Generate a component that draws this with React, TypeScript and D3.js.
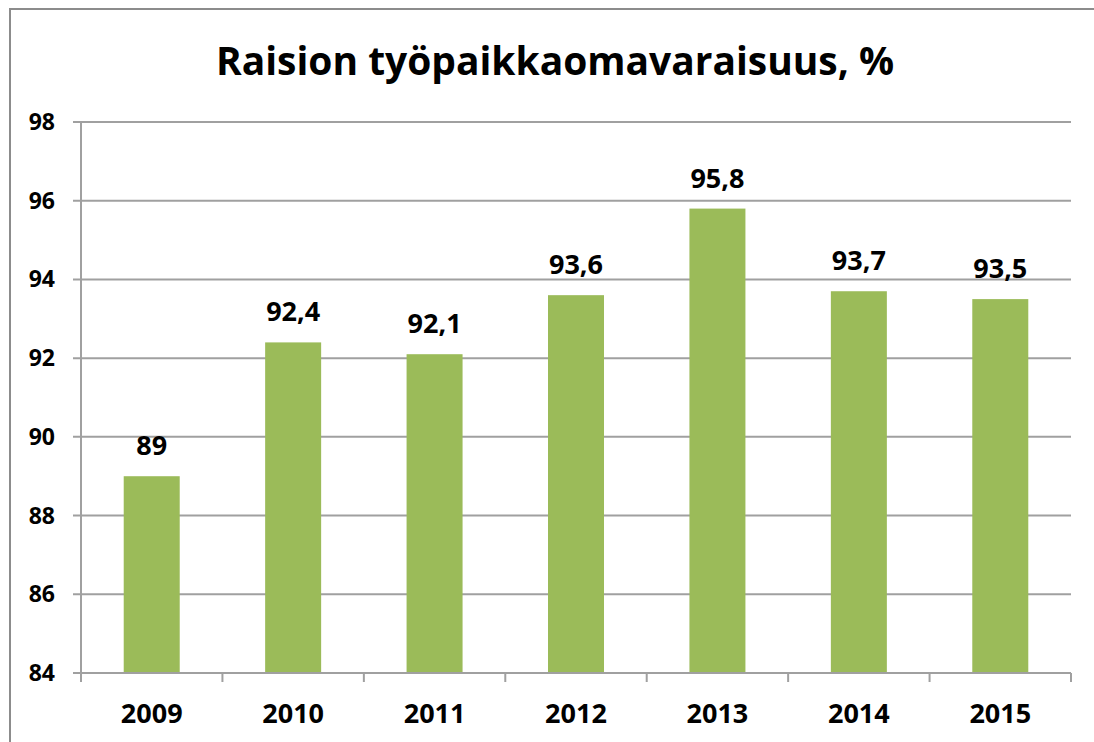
import { useEffect, useRef } from "react";
import * as d3 from "d3";

const years = ["2009", "2010", "2011", "2012", "2013", "2014", "2015"];
const values = [89, 92.4, 92.1, 93.6, 95.8, 93.7, 93.5];
const yTicks = [84, 86, 88, 90, 92, 94, 96, 98];
const title = "Raision työpaikkaomavaraisuus, %";

const W = 1094;
const H = 742;
const FONT = "'Open Sans', 'DejaVu Sans', sans-serif";

export default function App() {
    const ref = useRef<SVGSVGElement | null>(null);

    useEffect(() => {
        const svg = d3.select(ref.current);
        svg.selectAll("*").remove();

        const margin = { top: 122, left: 81, right: 23, bottom: 69 };
        const x = d3.scaleBand<string>().domain(years).range([margin.left, W - margin.right]);
        const y = d3.scaleLinear().domain([84, 98]).range([H - margin.bottom, margin.top]);
        const gray = "#8c8c8c";

        // outer chart border (only left and top visible)
        svg.append("rect")
            .attr("x", 10).attr("y", 9)
            .attr("width", W + 20).attr("height", H + 20)
            .attr("fill", "white")
            .attr("stroke", gray).attr("stroke-width", 2);

        svg.append("text")
            .attr("x", 555).attr("y", 75)
            .attr("text-anchor", "middle")
            .attr("font-family", FONT).attr("font-weight", "bold")
            .attr("font-size", 40)
            .attr("textLength", 678)
            .attr("lengthAdjust", "spacingAndGlyphs")
            .text(title);

        // gridlines + y ticks
        const yAxis = svg.append("g").attr("class", "y-axis");
        yAxis.selectAll("line.grid")
            .data(yTicks)
            .join("line")
            .attr("class", "grid")
            .attr("x1", margin.left - 8).attr("x2", W - margin.right)
            .attr("y1", d => y(d)).attr("y2", d => y(d))
            .attr("stroke", "#a0a0a0").attr("stroke-width", 2);
        yAxis.selectAll("text")
            .data(yTicks)
            .join("text")
            .attr("x", 55).attr("y", d => y(d) + 8)
            .attr("text-anchor", "end")
            .attr("font-family", FONT).attr("font-weight", "bold").attr("font-size", 23)
            .text(d => d);
        yAxis.append("line")
            .attr("x1", margin.left).attr("x2", margin.left)
            .attr("y1", y(98)).attr("y2", y(84) + 9)
            .attr("stroke", "#a0a0a0").attr("stroke-width", 2);

        // bars
        const barW = 56;
        const bars = svg.append("g").attr("class", "bars");
        bars.selectAll("rect")
            .data(values)
            .join("rect")
            .attr("x", (d, i) => x(years[i])! + x.bandwidth() / 2 - barW / 2)
            .attr("width", barW)
            .attr("y", d => y(d))
            .attr("height", d => y(84) - y(d))
            .attr("fill", "#9bbb59");
        bars.selectAll("text")
            .data(values)
            .join("text")
            .attr("x", (d, i) => x(years[i])! + x.bandwidth() / 2)
            .attr("y", d => y(d) - 21)
            .attr("text-anchor", "middle")
            .attr("font-family", FONT).attr("font-weight", "bold").attr("font-size", 27)
            .text(d => String(d).replace(".", ","));

        // x axis
        const xAxis = svg.append("g").attr("class", "x-axis");
        xAxis.append("line")
            .attr("x1", margin.left - 8).attr("x2", W - margin.right)
            .attr("y1", y(84)).attr("y2", y(84))
            .attr("stroke", "#a0a0a0").attr("stroke-width", 2);
        const bounds = years.map(yr => x(yr)!).concat([W - margin.right]);
        xAxis.selectAll("line.tick")
            .data(bounds)
            .join("line")
            .attr("class", "tick")
            .attr("x1", d => d).attr("x2", d => d)
            .attr("y1", y(84)).attr("y2", y(84) + 9)
            .attr("stroke", "#a0a0a0").attr("stroke-width", 2);
        xAxis.selectAll("text")
            .data(years)
            .join("text")
            .attr("x", d => x(d)! + x.bandwidth() / 2)
            .attr("y", 723)
            .attr("text-anchor", "middle")
            .attr("font-family", FONT).attr("font-weight", "bold").attr("font-size", 27)
            .text(d => d);
    }, []);

    return (
        <svg ref={ref} width={W} height={H}
             style={{ position: "absolute", left: 0, top: 0, display: "block" }} />
    );
}
